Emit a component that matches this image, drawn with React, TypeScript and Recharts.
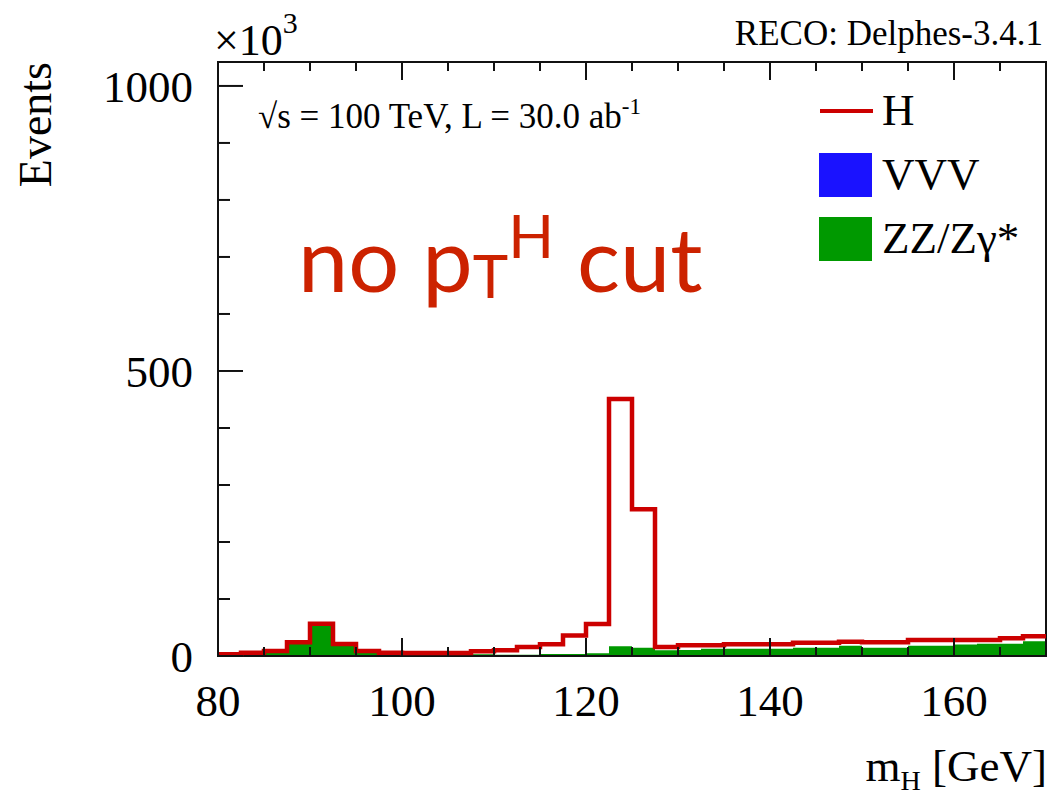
import React from "react";
import {
  ComposedChart,
  Area,
  Line,
  XAxis,
  YAxis,
  ReferenceArea,
  Legend,
} from "recharts";

// bin lower edges in GeV (2.5 GeV bins, last row closes the histogram at 170)
const binLow = [
  80, 82.5, 85, 87.5, 90, 92.5, 95, 97.5, 100, 102.5, 105, 107.5, 110, 112.5,
  115, 117.5, 120, 122.5, 125, 127.5, 130, 132.5, 135, 137.5, 140, 142.5, 145,
  147.5, 150, 152.5, 155, 157.5, 160, 162.5, 165, 167.5,
];
const xMax = 170;

// events per bin, in units of 10^3
const vvv = [
  0.3, 0.3, 0.3, 0.3, 0.3, 0.3, 0.3, 0.3, 0.3, 0.3, 0.3, 0.3, 0.3, 0.3, 0.3,
  0.3, 0.3, 1.5, 1.5, 1.5, 1.5, 1.5, 1.5, 1.5, 1.5, 1.5, 1.5, 1.5, 1.5, 1.5,
  1.5, 1.5, 1.5, 1.5, 1.5, 1.5,
];
const zz = [
  0.2, 3.2, 6.7, 22.5, 53.7, 18.4, 6.7, 3.7, 3.2, 3.2, 2.7, 2.7, 2.0, 2.0, 3.2,
  3.2, 4.4, 15.5, 13.1, 8.5, 9.0, 11.4, 11.4, 11.4, 11.4, 13.1, 13.1, 16.5,
  13.1, 13.1, 16.5, 16.5, 18.5, 20.1, 20.1, 24.2,
];
const higgs = [
  2.5, 2.0, 1.8, 1.2, 2.7, 2.3, 1.8, 1.8, 1.8, 1.8, 2.3, 5.2, 7.7, 13.5, 17.0,
  32.5, 51.3, 434, 243, 5.8, 8.2, 5.8, 7.6, 7.6, 7.6, 8.8, 8.8, 7.0, 9.4, 9.4,
  10, 10, 8, 6.4, 9.4, 8.8,
];

const xTicks = [
  80, 85, 90, 95, 100, 105, 110, 115, 120, 125, 130, 135, 140, 145, 150, 155,
  160, 165, 170,
];
const xLabels = [80, 100, 120, 140, 160];
const yTicks = [0, 100, 200, 300, 400, 500, 600, 700, 800, 900, 1000];
const yLabels = [0, 500, 1000];
const yMax = 1042;

const legendItems = [
  { name: "H", color: "#cc0000", kind: "line" },
  { name: "VVV", color: "#1a12ff", kind: "box" },
  { name: "ZZ/Z\u03b3*", color: "#009900", kind: "box" },
];

const serif = "'Liberation Serif', 'DejaVu Serif', serif";

const rows = binLow.map((x, i) => ({
  x,
  vvv: vvv[i],
  zz: zz[i],
  total: vvv[i] + zz[i] + higgs[i],
}));
rows.push({ ...rows[rows.length - 1], x: xMax });

const BottomTick = (props: any) => {
  const { x, y, payload } = props;
  const major = payload.value % 20 === 0;
  return (
    <g>
      <line x1={x} x2={x} y1={y} y2={y - (major ? 18 : 9)} stroke="#111" strokeWidth={2} />
      {xLabels.includes(payload.value) && (
        <text x={x} y={y + 60} textAnchor="middle" fontFamily={serif} fontSize={45} fill="#000">
          {payload.value}
        </text>
      )}
    </g>
  );
};

const TopTick = (props: any) => {
  const { x, y, payload } = props;
  const major = payload.value % 20 === 0;
  return <line x1={x} x2={x} y1={y} y2={y + (major ? 18 : 9)} stroke="#111" strokeWidth={2} />;
};

const LeftTick = (props: any) => {
  const { x, y, payload } = props;
  const major = payload.value % 500 === 0;
  return (
    <g>
      <line x1={x} x2={x + (major ? 25 : 12)} y1={y} y2={y} stroke="#111" strokeWidth={2} />
      {yLabels.includes(payload.value) && (
        <text x={x - 25} y={y + 16} textAnchor="end" fontFamily={serif} fontSize={45} fill="#000">
          {payload.value}
        </text>
      )}
    </g>
  );
};

const RightTick = (props: any) => {
  const { x, y, payload } = props;
  const major = payload.value % 500 === 0;
  return <line x1={x} x2={x - (major ? 25 : 12)} y1={y} y2={y} stroke="#111" strokeWidth={2} />;
};

const LegendBox = () => (
  <svg width={240} height={200}>
    {legendItems.map((it, i) => {
      const cy = 31 + 64 * i;
      return (
        <g key={it.name}>
          {it.kind === "line" ? (
            <line x1={5} x2={58} y1={cy} y2={cy} stroke={it.color} strokeWidth={4} />
          ) : (
            <rect x={4} y={cy - 22} width={53} height={44} fill={it.color} />
          )}
          <text x={67} y={cy + 14} fontFamily={serif} fontSize={45} fill="#000">
            {it.name}
          </text>
        </g>
      );
    })}
  </svg>
);

export default function App() {
  return (
    <div style={{ position: "absolute", left: 0, top: 0, width: 1051, height: 797, background: "#fff" }}>
      <ComposedChart
        width={1051}
        height={797}
        data={rows}
        margin={{ top: 61, left: 217, right: 4, bottom: 140 }}
      >
        <XAxis
          dataKey="x"
          type="number"
          domain={[80, xMax]}
          ticks={xTicks}
          interval={0}
          tickSize={0}
          tickMargin={0}
          tickLine={false}
          axisLine={false}
          height={1}
          tick={<BottomTick />}
        />
        <XAxis
          xAxisId="top"
          orientation="top"
          dataKey="x"
          type="number"
          domain={[80, xMax]}
          ticks={xTicks}
          interval={0}
          tickSize={0}
          tickMargin={0}
          tickLine={false}
          axisLine={false}
          height={1}
          tick={<TopTick />}
        />
        <YAxis
          type="number"
          domain={[0, yMax]}
          ticks={yTicks}
          interval={0}
          tickSize={0}
          tickMargin={0}
          tickLine={false}
          axisLine={false}
          width={1}
          tick={<LeftTick />}
        />
        <YAxis
          yAxisId="right"
          orientation="right"
          type="number"
          domain={[0, yMax]}
          ticks={yTicks}
          interval={0}
          tickSize={0}
          tickMargin={0}
          tickLine={false}
          axisLine={false}
          width={1}
          tick={<RightTick />}
        />
        <Area
          type="stepAfter"
          dataKey="vvv"
          stackId="bkg"
          fill="#1a12ff"
          fillOpacity={1}
          stroke="none"
          isAnimationActive={false}
        />
        <Area
          type="stepAfter"
          dataKey="zz"
          stackId="bkg"
          fill="#009900"
          fillOpacity={1}
          stroke="none"
          isAnimationActive={false}
        />
        <Line
          type="stepAfter"
          dataKey="total"
          stroke="#cc0000"
          strokeWidth={4.5}
          dot={false}
          isAnimationActive={false}
        />
        <ReferenceArea x1={80} x2={xMax} y1={0} y2={yMax} fill="none" stroke="#111" strokeWidth={2} ifOverflow="visible" />
        <Legend
          layout="vertical"
          align="center"
          verticalAlign="middle"
          content={<LegendBox />}
          wrapperStyle={{ position: "absolute", left: 815, top: 80, width: 240 }}
        />
      </ComposedChart>
      <svg
        width={1051}
        height={797}
        style={{ position: "absolute", left: 0, top: 0, pointerEvents: "none" }}
      >
        <text
          transform="translate(51,62) rotate(-90)"
          textAnchor="end"
          fontFamily={serif}
          fontSize={46}
          fill="#000"
        >
          Events
        </text>
        <text x={214} y={55} fontFamily={serif} fontSize={44} fill="#000">
          {"\u00d710"}
          <tspan dy={-22} fontSize={30}>3</tspan>
        </text>
        <text x={1043} y={45} textAnchor="end" fontFamily={serif} fontSize={35} fill="#000">
          RECO: Delphes-3.4.1
        </text>
        <text x={258} y={128} fontFamily={serif} fontSize={35} fill="#000">
          {"\u221as = 100 TeV, L = 30.0 ab"}
          <tspan dy={-14} fontSize={23}>-1</tspan>
        </text>
        <text x={298} y={292} fontFamily="Lato, 'Open Sans', sans-serif" fontSize={90} fill="#cc2200">
          no p
          <tspan dy={6} fontSize={60}>T</tspan>
          <tspan dy={-40} fontSize={60}>H</tspan>
          <tspan dy={34}> cut</tspan>
        </text>
        <text x={1047} y={781} textAnchor="end" fontFamily={serif} fontSize={45} fill="#000">
          m
          <tspan dy={9} fontSize={28}>H</tspan>
          <tspan dy={-9}> [GeV]</tspan>
        </text>
      </svg>
    </div>
  );
}
